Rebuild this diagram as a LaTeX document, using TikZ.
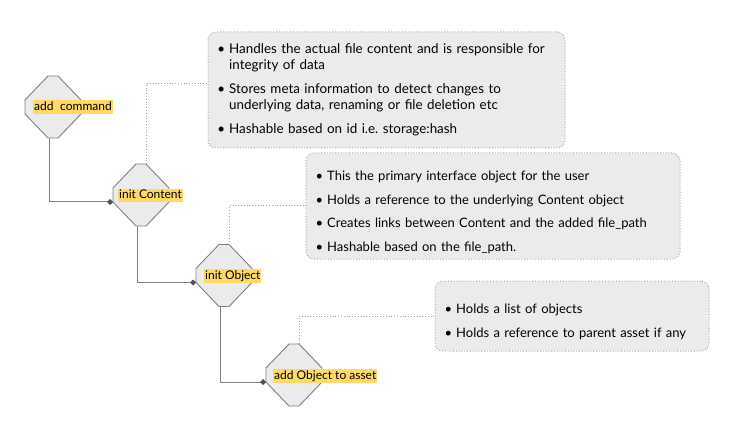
\documentclass[tikz,border=0pt]{standalone}
\usepackage{fontspec}
\setmainfont{Lato}
\usepackage{enumitem}
\usetikzlibrary{arrows.meta,calc}
\definecolor{notegray}{HTML}{EBEBEB}
\definecolor{shapegray}{HTML}{EBEBEB}
\definecolor{edgegray}{HTML}{808080}
\definecolor{dotgray}{HTML}{A0A0A0}
\definecolor{labelyellow}{HTML}{FFD966}
\definecolor{tipgray}{HTML}{505050}
\newlist{notelist}{itemize}{1}
\setlist[notelist]{label=\textbullet,leftmargin=14pt,labelsep=4pt,itemsep=7pt,topsep=0pt,partopsep=0pt,parsep=0pt}
\tikzset{
  stepfill/.style={fill=shapegray,draw=edgegray,line width=0.9pt,line join=miter},
  steplabel/.style={fill=labelyellow,anchor=west,inner xsep=1pt,inner ysep=0.5pt,text height=9.5pt,text depth=3pt,font=\fontsize{12}{14}\selectfont},
  flow/.style={draw=edgegray,line width=1pt,-{Turned Square[length=6pt,width=6pt,fill=tipgray,color=tipgray]}},
  leader/.style={draw=dotgray,line width=1pt,dash pattern=on 0.8pt off 2pt},
  notebox/.style={fill=notegray,draw=dotgray,line width=1pt,dash pattern=on 0.8pt off 2pt,rounded corners=8pt,inner sep=0pt},
  notetext/.style={anchor=north west,inner sep=0pt,text width=440pt,font=\fontsize{13}{16.5}\selectfont\frenchspacing}
}
\newcommand\stepshape[3]{%
  \node[minimum width=56pt,minimum height=62pt,inner sep=0pt] (#1) at (#2,#3) {};
  \coordinate (#1-t) at ({#2+5},{#3-31});
  \coordinate (#1-b) at ({#2-4},{#3+31});
  \coordinate (#1-l) at ({#2-28},{#3+7});
  \path[stepfill] ({#2-5},{#3-31}) -- ({#2+5},{#3-31}) -- ({#2+28},{#3-7}) -- ({#2+28},{#3+7}) -- ({#2+5},{#3+31}) -- ({#2-5},{#3+31}) -- ({#2-28},{#3+7}) -- ({#2-28},{#3-7}) -- cycle;
}
\begin{document}
\begin{tikzpicture}[x=1pt,y=-1pt]
\useasboundingbox[fill=white] (0,0) rectangle (753,433);
% note boxes
\node[notebox,minimum width=357pt,minimum height=116pt] (n1) at (386.5,90) {};
\node[notebox,minimum width=374pt,minimum height=106pt] (n2) at (493,206) {};
\node[notebox,minimum width=274pt,minimum height=70pt] (n3) at (572,316) {};
\node[notetext,font=\fontsize{13.4}{16.5}\selectfont\frenchspacing] (t1) at (215,36.8) {\begin{notelist}
\item Handles the actual file content and is responsible for\newline integrity of data
\item Stores meta information to detect changes to\newline underlying data, renaming or file deletion etc
\item Hashable based on id i.e. storage:hash
\end{notelist}};
\node[notetext] (t2) at (313,164) {\begin{notelist}
\item This the primary interface object for the user
\item Holds a reference to the underlying Content object
\item Creates links between Content and the added file\_path
\item Hashable based on the file\_path.
\end{notelist}};
\node[notetext] (t3) at (442,297) {\begin{notelist}
\item Holds a list of objects
\item Holds a reference to parent asset if any
\end{notelist}};
% steps
\stepshape{d1}{53}{107}
\stepshape{d2}{141}{195}
\stepshape{d3}{224}{275.5}
\stepshape{d4}{294}{375}
\node[steplabel] (l1) at (33,107) {add\hspace{0.55em}command};
\node[steplabel] (l2) at (118,195.5) {init Content};
\node[steplabel] (l3) at (204,276) {init Object};
\node[steplabel] (l4) at (273,376) {add Object to asset};
% connectors
\draw[flow] (d1-b) |- (d2-l);
\draw[flow] (d2-b) |- (d3-l);
\draw[flow] (d3-b) |- (d4-l);
\draw[leader] (d2-t) |- ([yshift=6pt]n1.west);
\draw[leader] (d3-t) |- (n2.west);
\draw[leader] (d4-t) |- (n3.west);
\end{tikzpicture}
\end{document}
